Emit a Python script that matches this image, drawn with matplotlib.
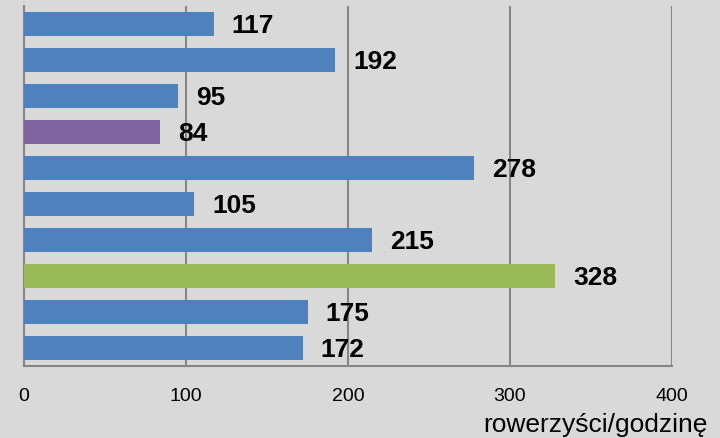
import matplotlib.pyplot as plt
import numpy as np

# rowerzyści/godzinę, bars from top to bottom
values = [117, 192, 95, 84, 278, 105, 215, 328, 175, 172]
colors = ['#4f81bd', '#4f81bd', '#4f81bd', '#8064a2', '#4f81bd',
          '#4f81bd', '#4f81bd', '#9bbb59', '#4f81bd', '#4f81bd']
xticks = [0, 100, 200, 300, 400]

bg = '#d9d9d9'
grid = '#868686'
plt.rcParams['font.family'] = ['Liberation Sans', 'DejaVu Sans']

fig = plt.figure(figsize=(7.2, 4.39), dpi=100, facecolor=bg)
ax = fig.add_axes([24/720, 1-367/439, 648/720, 360/439], facecolor=bg)

y = np.arange(len(values))
ax.barh(y, values, height=0.667, color=colors, zorder=3)
for yi, v in zip(y, values):
    ax.annotate(str(v), (v, yi), xytext=(13, -1), textcoords='offset points',
                va='center', ha='left', fontsize=19, fontweight='bold')

ax.set_xlim(0, 400)
ax.set_ylim(len(values) - 0.5, -0.5)
ax.set_xticks(xticks)
ax.set_yticks([])
ax.tick_params(axis='x', length=0, pad=15, labelsize=14)
ax.grid(axis='x', color=grid, linewidth=1.5, zorder=0)
for s in ['top', 'right']:
    ax.spines[s].set_visible(False)
for s in ['left', 'bottom']:
    ax.spines[s].set_color(grid)
    ax.spines[s].set_linewidth(1.5)

fig.text(708/720, 1-432/439, 'rowerzyści/godzinę', ha='right', va='baseline',
         fontsize=19)

fig.savefig('out.png', dpi=100, facecolor=bg)
